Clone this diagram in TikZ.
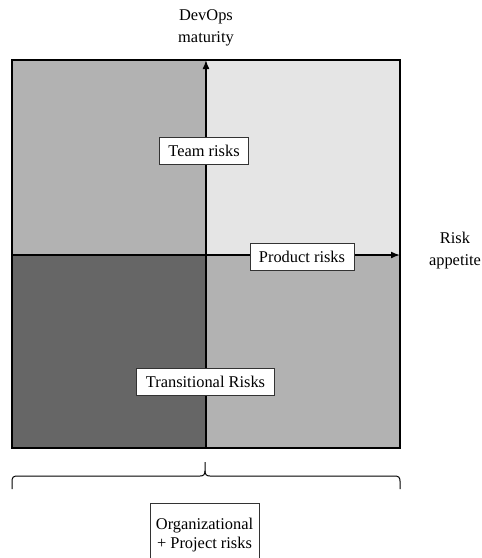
\documentclass[tikz,border=0pt]{standalone}
\usepackage{fontspec}
\setmainfont{Liberation Serif}
\usetikzlibrary{arrows.meta}
\definecolor{qlight}{gray}{0.90}
\definecolor{qmid}{gray}{0.70}
\definecolor{qdark}{gray}{0.40}
\tikzset{
  lbl/.style={draw=black!80, line width=0.8pt, fill=white, inner xsep=9pt, inner ysep=4pt,
    minimum height=27pt, font=\fontsize{16.4}{20}\selectfont},
  axislabel/.style={align=center, font=\fontsize{16.4}{22}\selectfont},
  axis/.style={line width=1.6pt, -{Latex[length=9pt,width=7pt]}},
  bracestyle/.style={line width=1pt},
}
\begin{document}
\begin{tikzpicture}[x=1pt,y=-1pt]
\useasboundingbox (0,0) rectangle (482,558);
% corners and axis ends
\coordinate (tl) at (12,60);
\coordinate (br) at (400,448);
\coordinate (c) at (206,255);
\coordinate (ytop) at (206,60);
\coordinate (ybot) at (206,448);
\coordinate (xl) at (12,255);
\coordinate (xr) at (400,255);
% quadrants
\fill[qmid] (tl) rectangle (c);
\fill[qlight] (206,60) rectangle (400,255);
\fill[qdark] (12,255) rectangle (206,448);
\fill[qmid] (c) rectangle (br);
\draw[line width=1.4pt] (tl) rectangle (br);
% axes
\draw[axis] (ybot) -- (ytop);
\draw[axis] (xl) -- (xr);
% labels
\node[axislabel] (ylab) at (206,28) {DevOps\\maturity};
\node[axislabel] (xlab) at (455,251) {Risk\\appetite};
\node[lbl] (team) at (204,150.5) {Team risks};
\node[lbl] (prod) at (302,256.5) {Product risks};
\node[lbl] (trans) at (205.5,382) {Transitional Risks};
% brace below the square
\draw[bracestyle] (12,489) -- (12,481) .. controls (12,477.5) and (13.5,476) .. (17,476)
  -- (200,476) .. controls (203.5,476) and (205,474.5) .. (205,471) -- (205,462);
\draw[bracestyle] (205,471) .. controls (205,474.5) and (206.5,476) .. (210,476)
  -- (395,476) .. controls (398.5,476) and (400,477.5) .. (400,481) -- (400,489);
\node[lbl, align=center, minimum height=64pt, inner xsep=6pt, font=\fontsize{16.4}{19}\selectfont,
  anchor=north] (org) at (204.5,503) {Organizational\\+ Project risks};
\end{tikzpicture}
\end{document}
